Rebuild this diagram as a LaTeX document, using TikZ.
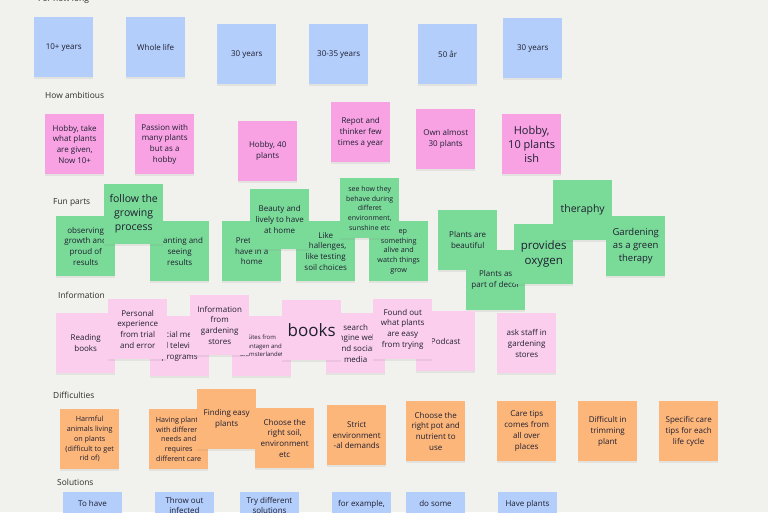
\documentclass[tikz,border=0pt]{standalone}
\usepackage{fontspec}
\setmainfont{Open Sans}
\usetikzlibrary{shadows}
\definecolor{bg}{HTML}{F1F1EE}
\definecolor{ink}{HTML}{1E1E30}
\definecolor{labelink}{HTML}{2E2E2E}
\definecolor{cblue}{HTML}{B3CEFA}
\definecolor{cpink}{HTML}{F8A2E4}
\definecolor{cgreen}{HTML}{7ADB98}
\definecolor{cinfo}{HTML}{FCCEEE}
\definecolor{corange}{HTML}{FDB67A}
\begin{document}
\begin{tikzpicture}[x=1pt,y=-1pt,
  note/.style={anchor=north west, inner sep=0pt, minimum width=59pt, minimum height=60pt,
    align=center, text=ink, font=\fontsize{8}{10.8}\selectfont,
    drop shadow={shadow xshift=0pt, shadow yshift=-1.8pt, opacity=0.13}},
  small/.style={font=\fontsize{7.2}{9.8}\selectfont},
  tiny/.style={font=\fontsize{6}{8.5}\selectfont},
  big/.style={font=\fontsize{10.5}{14}\selectfont},
  bluenote/.style={note, fill=cblue},
  pinknote/.style={note, fill=cpink},
  greennote/.style={note, fill=cgreen},
  infonote/.style={note, fill=cinfo},
  orangenote/.style={note, fill=corange},
  heading/.style={anchor=west, inner sep=0pt, text=labelink, font=\fontsize{8.4}{10}\selectfont},
  cuttext/.style={inner sep=0pt, align=center, text=ink, font=\fontsize{8}{10.4}\selectfont}
]
\useasboundingbox[fill=bg] (0,0) rectangle (768,512);
\clip (0,0) rectangle (768,512);

% ---------- For how long ----------
\node[heading] (h1) at (38,-0.5) {For how long};
\node[bluenote] (b1) at (34,17) {10+ years};
\node[bluenote] (b2) at (126,17) {Whole life};
\node[bluenote] (b3) at (217,24) {30 years};
\node[bluenote] (b4) at (309,24) {30-35 years};
\node[bluenote] (b5) at (418,24) {50 år};
\node[bluenote] (b6) at (503,18) {30 years};

% ---------- How ambitious ----------
\node[heading] (h2) at (45,95) {How ambitious};
\node[pinknote] (p1) at (45,114) {Hobby, take\\what plants\\are given,\\Now 10+};
\node[pinknote] (p2) at (135,114) {Passion with\\many plants\\but as a\\hobby};
\node[pinknote] (p3) at (238,121) {Hobby, 40\\plants};
\node[pinknote] (p4) at (331,102) {Repot and\\thinker few\\times a year};
\node[pinknote] (p5) at (416,109) {Own almost\\30 plants};
\node[pinknote, font=\fontsize{11}{14}\selectfont] (p6) at (502,114) {Hobby,\\10 plants\\ish};

% ---------- Fun parts ----------
\node[heading] (h3) at (53,203) {Fun parts};
\node[greennote] (g1) at (56,216) {observing\\growth and\\proud of\\results};
\node[greennote] (g2) at (150,221) {Planting and\\seeing\\results};
\node[greennote, big] (g3) at (104,184) {follow the\\growing\\process};
\node[greennote] (g4) at (222,221) {Pretty to\\have in a\\home};
\node[greennote] (g5) at (296,221) {Like\\challenges,\\like testing\\soil choices};
\node[greennote] (g6) at (250,189) {Beauty and\\lively to have\\at home};
\node[greennote, small] (g7) at (369,221) {Keep\\something\\alive and\\watch things\\grow};
\node[greennote, font=\fontsize{7}{9.8}\selectfont] (g8) at (340,178) {see how they\\behave during\\differet\\environment,\\sunshine etc};
\node[greennote] (g9) at (438,210) {Plants are\\beautiful};
\node[greennote] (g10) at (466,250) {Plants as\\part of decor};
\node[greennote, font=\fontsize{11.5}{15}\selectfont] (g11) at (514,224) {provides\\oxygen};
\node[greennote, big] (g12) at (553,180) {theraphy};
\node[greennote, font=\fontsize{9.5}{13}\selectfont] (g13) at (606,216) {Gardening\\as a green\\therapy};

% ---------- Information ----------
\node[heading] (h4) at (58,295) {Information};
\node[infonote] (i1) at (56,313) {Reading\\books};
\node[infonote] (i2) at (150,316) {Social media\\and television\\programs};
\node[infonote] (i3) at (108,299) {Personal\\experience\\from trial\\and error};
\node[infonote, tiny] (i4) at (232,316) {Sites from\\Plantagen and\\Blomsterlandet};
\node[infonote] (i5) at (190,295) {Information\\from\\gardening\\stores};
\node[infonote] (i6) at (326,313) {search\\engine web\\and social\\media};
\node[infonote, font=\fontsize{17}{20}\selectfont] (i7) at (282,300) {books};
\node[infonote] (i8) at (416,311) {Podcast};
\node[infonote] (i9) at (373,299) {Found out\\what plants\\are easy\\from trying};
\node[infonote] (i10) at (497,313) {ask staff in\\gardening\\stores};

% ---------- Difficulties ----------
\node[heading] (h5) at (53,395) {Difficulties};
\node[orangenote, small] (o1) at (60,409) {Harmful\\animals living\\on plants\\(difficult to get\\rid of)};
\node[orangenote, small] (o2) at (149,409) {Having plants\\with different\\needs and\\requires\\different care};
\node[orangenote] (o3) at (197,389) {Finding easy\\plants};
\node[orangenote] (o4) at (255,408) {Choose the\\right soil,\\environment\\etc};
\node[orangenote] (o5) at (327,405) {Strict\\environment\\-al demands};
\node[orangenote] (o6) at (406,401) {Choose the\\right pot and\\nutrient to\\use};
\node[orangenote] (o7) at (497,401) {Care tips\\comes from\\all over\\places};
\node[orangenote] (o8) at (578,401) {Difficult in\\trimming\\plant};
\node[orangenote] (o9) at (659,401) {Specific care\\tips for each\\life cycle};

% ---------- Solutions ----------
\node[heading] (h6) at (57,482) {Solutions};
\node[bluenote] (s1) at (63,492) {};
\node[bluenote] (s2) at (155,492) {};
\node[bluenote] (s3) at (240,492) {};
\node[bluenote] (s4) at (332,492) {};
\node[bluenote] (s5) at (406,492) {};
\node[bluenote] (s6) at (498,492) {};
\node[cuttext, anchor=north] (s1t) at (92.5,500) {To have};
\node[cuttext, anchor=north] (s2t) at (184.5,497) {Throw out\\infected};
\node[cuttext, anchor=north] (s3t) at (269.5,497) {Try different\\solutions};
\node[cuttext, anchor=north] (s4t) at (361.5,500) {for example,};
\node[cuttext, anchor=north] (s5t) at (435.5,500) {do some};
\node[cuttext, anchor=north] (s6t) at (527.5,500) {Have plants};
\end{tikzpicture}
\end{document}
